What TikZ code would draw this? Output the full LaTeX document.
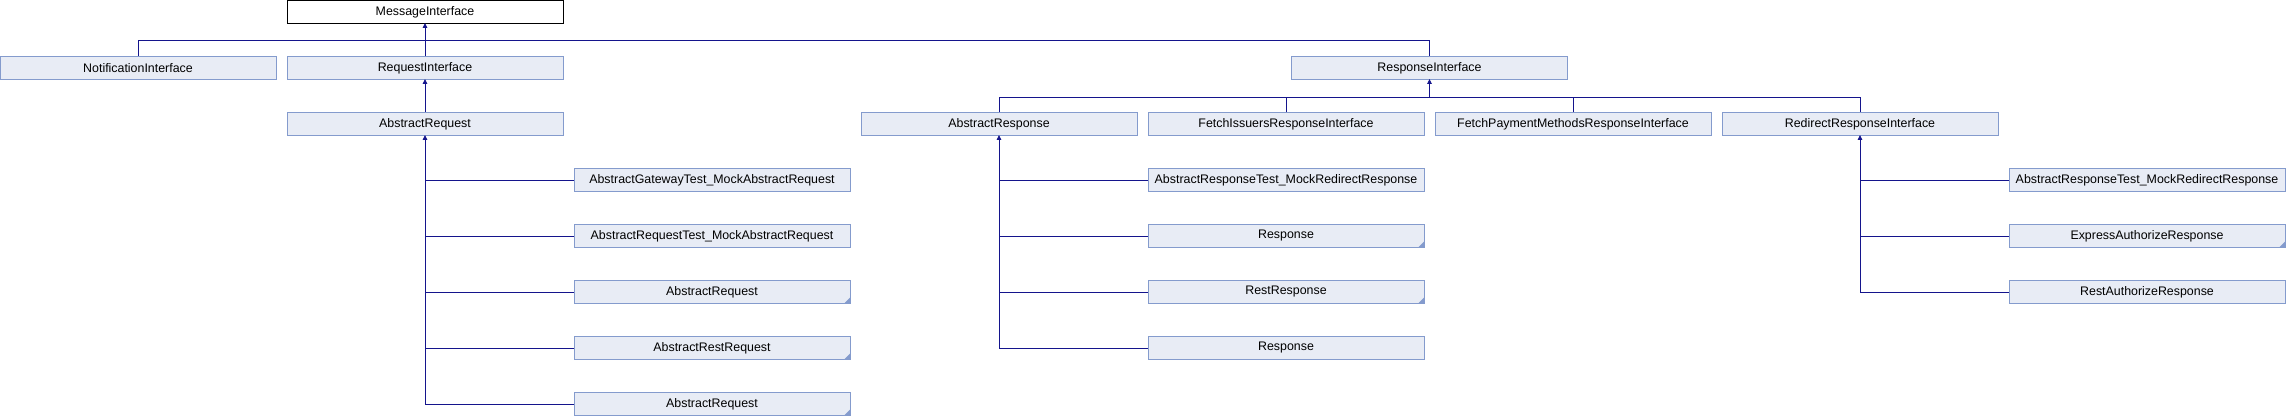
\documentclass[tikz,border=0pt]{standalone}
\usepackage{fontspec}
\setmainfont{Liberation Sans}
\usetikzlibrary{arrows.meta,calc}
\definecolor{edgecol}{RGB}{20,20,140}
\definecolor{boxfill}{RGB}{232,236,245}
\definecolor{boxline}{RGB}{132,155,205}
\tikzset{
  cls/.style={draw=boxline, fill=boxfill, line width=0.9pt, rectangle, inner sep=0pt,
    minimum width=276pt, minimum height=23pt, font=\fontsize{12.4}{14}\selectfont},
  cur/.style={cls, draw=black, fill=white},
  edge/.style={draw=edgecol, line width=0.9pt},
  inh/.style={edge, -{Triangle[length=5pt,width=4.5pt]}, shorten >=-1pt},
}
\newcommand{\cornermark}[1]{\fill[boxline] ([xshift=-0.45pt,yshift=0.45pt]#1.south east) -- ++(-6,0) -- ++(6,-6) -- cycle;}
\begin{document}
\begin{tikzpicture}[x=1pt,y=-1pt]
\useasboundingbox (0,0) rectangle (2286,416);
% row 0
\node[cur] (msg) at (425,12) {MessageInterface};
% row 1
\node[cls] (notif) at (138,68) {NotificationInterface};
\node[cls] (req) at (425,68) {RequestInterface};
\node[cls] (resp) at (1429.5,68) {ResponseInterface};
% row 2
\node[cls] (areq) at (425,124) {AbstractRequest};
\node[cls] (aresp) at (999,124) {AbstractResponse};
\node[cls] (fetchi) at (1286,124) {FetchIssuersResponseInterface};
\node[cls] (fetchp) at (1573,124) {FetchPaymentMethodsResponseInterface};
\node[cls] (redir) at (1860,124) {RedirectResponseInterface};
% AbstractRequest children
\node[cls] (rq1) at (712,180) {AbstractGatewayTest\_MockAbstractRequest};
\node[cls] (rq2) at (712,236) {AbstractRequestTest\_MockAbstractRequest};
\node[cls] (rq3) at (712,292) {AbstractRequest};
\node[cls] (rq4) at (712,348) {AbstractRestRequest};
\node[cls] (rq5) at (712,404) {AbstractRequest};
% AbstractResponse children
\node[cls] (rs1) at (1286,180) {AbstractResponseTest\_MockRedirectResponse};
\node[cls] (rs2) at (1286,236) {Response};
\node[cls] (rs3) at (1286,292) {RestResponse};
\node[cls] (rs4) at (1286,348) {Response};
% RedirectResponseInterface children
\node[cls] (rd1) at (2147,180) {AbstractResponseTest\_MockRedirectResponse};
\node[cls] (rd2) at (2147,236) {ExpressAuthorizeResponse};
\node[cls] (rd3) at (2147,292) {RestAuthorizeResponse};
% corner marks
\cornermark{rq3}
\cornermark{rq4}
\cornermark{rq5}
\cornermark{rs2}
\cornermark{rs3}
\cornermark{rd2}
% connectors to MessageInterface
\path (msg.south) ++(0,16.5) coordinate (mbus);
\draw[edge] (notif.north) |- (mbus) -| (resp.north);
\draw[inh] (req.north) -- (msg.south);
% RequestInterface
\draw[inh] (areq.north) -- (req.south);
% ResponseInterface
\path (resp.south) ++(0,17) coordinate (rbus);
\draw[edge] (aresp.north) |- (rbus) -| (redir.north);
\draw[edge] (fetchi.north) -- (fetchi.north |- rbus);
\draw[edge] (fetchp.north) -- (fetchp.north |- rbus);
\draw[inh] (rbus) -- (resp.south);
% AbstractRequest trunk
\draw[inh] (rq5.west) -| (areq.south);
\foreach \c in {rq1,rq2,rq3,rq4} \draw[edge] (\c.west) -- (\c.west -| areq.south);
% AbstractResponse trunk
\draw[inh] (rs4.west) -| (aresp.south);
\foreach \c in {rs1,rs2,rs3} \draw[edge] (\c.west) -- (\c.west -| aresp.south);
% Redirect trunk
\draw[inh] (rd3.west) -| (redir.south);
\foreach \c in {rd1,rd2} \draw[edge] (\c.west) -- (\c.west -| redir.south);
\end{tikzpicture}
\end{document}
